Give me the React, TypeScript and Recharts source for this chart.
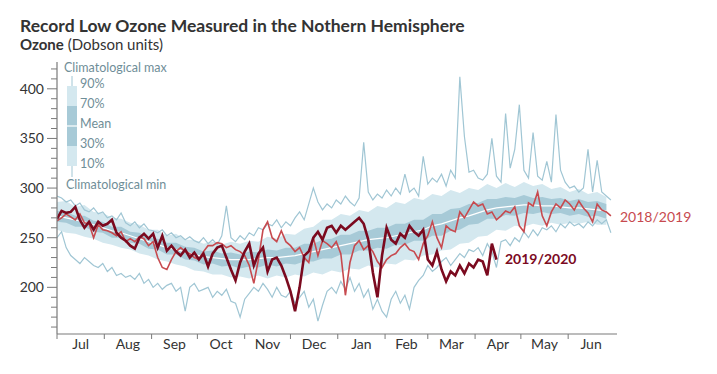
import React from 'react';
import { ComposedChart, Area, Line, XAxis, YAxis } from 'recharts';

// ---- data (Dobson units); day 0 = 1 July ----
const LINE_STEP = 3; // days between samples of the daily series below
const BAND_STEP = 6; // days between samples of the percentile bands

const climMax = [
  292, 290, 286, 288, 282, 285, 278, 276, 280, 274,
  276, 270, 272, 268, 275, 265, 262, 266, 260, 264,
  258, 257, 255, 258, 252, 255, 250, 252, 248, 251,
  247, 245, 250, 244, 248, 243, 252, 282, 250, 246,
  252, 248, 255, 252, 260, 258, 264, 262, 268, 260,
  266, 262, 270, 276, 268, 284, 300, 286, 278, 284,
  280, 288, 284, 292, 286, 282, 290, 346, 296, 288,
  294, 290, 298, 292, 300, 294, 314, 296, 300, 292,
  332, 304, 310, 306, 314, 302, 318, 310, 412, 352,
  316, 318, 310, 308, 314, 350, 312, 306, 375, 320,
  339, 384, 318, 310, 356, 312, 308, 327, 306, 374,
  318, 306, 300, 302, 296, 300, 339, 296, 328, 296,
  292, 288,
];

const climMin = [
  250, 256, 240, 232, 228, 224, 230, 226, 222, 220,
  224, 216, 220, 212, 214, 210, 212, 208, 214, 204,
  208, 200, 204, 198, 202, 204, 196, 200, 176, 200,
  204, 196, 198, 200, 190, 196, 192, 198, 186, 184,
  170, 188, 194, 200, 196, 204, 198, 190, 200, 192,
  190, 196, 184, 190, 196, 180, 188, 166, 182, 196,
  200, 194, 206, 198, 210, 196, 204, 190, 198, 178,
  188, 176, 170, 188, 196, 184, 192, 178, 200, 207,
  212, 222, 216, 220, 226, 230, 222, 228, 234, 230,
  238, 236, 240, 232, 244, 236, 220, 246, 248, 242,
  250, 246, 256, 250, 258, 252, 260, 258, 262, 256,
  264, 260, 266, 262, 264, 260, 266, 262, 268, 264,
  268, 255,
];

const ozone2018_2019 = [
  267, 270, 274, 271, 268, 274, 265, 264, 250, 263,
  258, 257, 255, 252, 256, 246, 249, 246, 251, 249,
  242, 246, 230, 220, 218, 228, 236, 240, 236, 234,
  230, 228, 236, 242, 242, 245, 244, 240, 242, 238,
  236, 232, 222, 204, 228, 258, 266, 250, 246, 257,
  246, 242, 236, 240, 230, 225, 250, 232, 247, 244,
  240, 246, 234, 192, 225, 242, 247, 238, 242, 236,
  226, 220, 228, 232, 234, 240, 244, 238, 236, 228,
  244, 252, 266, 250, 240, 262, 258, 256, 276, 270,
  278, 286, 282, 284, 274, 276, 268, 272, 277, 275,
  281, 262, 256, 285, 282, 296, 272, 262, 276, 284,
  280, 288, 284, 278, 287, 280, 275, 266, 284, 278,
  276, 272,
];

const ozone2019_2020 = [
  269, 277, 275, 276, 281, 268, 260, 266, 258, 266,
  262, 264, 268, 255, 250, 247, 242, 239, 250, 254,
  249, 254, 240, 252, 237, 242, 236, 232, 238, 230,
  235, 228, 234, 221, 234, 240, 242, 230, 218, 207,
  225, 236, 244, 222, 234, 240, 216, 228, 230, 222,
  210, 196, 176, 200, 232, 236, 250, 256, 248, 260,
  262, 255, 262, 258, 262, 266, 270, 264, 248, 215,
  190, 232, 260, 248, 244, 254, 250, 262, 256, 252,
  258, 228, 222, 236, 218, 206, 216, 212, 222, 214,
  224, 220, 228, 226, 212, 244, 228,
];

const pct90 = [
  286, 287, 281, 283, 276, 275, 270, 269, 265, 263,
  258, 258, 252, 254, 248, 248, 244, 246, 243, 246,
  244, 247, 246, 251, 249, 254, 253, 259, 261, 268,
  268, 274, 272, 278, 276, 282, 280, 286, 284, 290,
  288, 294, 292, 298, 295, 300, 298, 304, 300, 305,
  301, 306, 302, 304, 299, 301, 296, 299, 294, 296,
  291,
];
const pct70 = [
  277, 276, 272, 272, 267, 266, 261, 261, 256, 255,
  250, 249, 245, 245, 241, 240, 236, 237, 234, 235,
  233, 236, 235, 238, 237, 240, 240, 244, 244, 248,
  249, 253, 253, 257, 257, 260, 260, 264, 264, 268,
  268, 274, 274, 279, 280, 284, 285, 289, 289, 291,
  290, 293, 290, 291, 289, 290, 287, 289, 286, 287,
  284,
];
const climMean = [
  272, 270, 268, 266, 263, 260, 257, 255, 252, 249,
  246, 243, 240, 238, 236, 233, 231, 230, 229, 228,
  228, 228, 229, 230, 230, 231, 232, 234, 236, 238,
  240, 242, 244, 246, 248, 249, 250, 252, 254, 256,
  258, 262, 264, 267, 270, 272, 275, 278, 280, 281,
  282, 283, 283, 282, 282, 281, 280, 280, 279, 278,
  277,
];
const pct30 = [
  266, 265, 261, 261, 256, 255, 250, 250, 245, 244,
  239, 238, 233, 233, 228, 227, 223, 224, 221, 222,
  219, 221, 220, 223, 221, 224, 223, 226, 226, 229,
  229, 233, 233, 237, 237, 240, 239, 243, 243, 247,
  247, 252, 252, 257, 258, 263, 264, 269, 269, 273,
  272, 275, 274, 276, 274, 275, 272, 274, 271, 272,
  269,
];
const pct10 = [
  258, 255, 254, 251, 249, 245, 243, 240, 238, 234,
  232, 228, 226, 223, 221, 217, 216, 213, 213, 210,
  211, 209, 212, 209, 212, 210, 213, 211, 215, 213,
  217, 215, 219, 218, 222, 220, 224, 223, 228, 227,
  232, 233, 237, 238, 244, 245, 251, 252, 258, 257,
  262, 261, 264, 262, 265, 263, 265, 264, 266, 263,
  263,
];

const monthLabels = ['Jul', 'Aug', 'Sep', 'Oct', 'Nov', 'Dec', 'Jan', 'Feb', 'Mar', 'Apr', 'May', 'Jun'];
const monthStartDays = [0, 31, 62, 92, 123, 153, 184, 215, 243, 274, 304, 335];
const monthLengths = [31, 31, 30, 31, 30, 31, 31, 28, 31, 30, 31, 30];
const yTicks = [160, 170, 180, 190, 200, 210, 220, 230, 240, 250, 260, 270, 280, 290, 300, 310, 320, 330, 340, 350, 360, 370, 380, 390, 400, 410, 420];
const yMajor = [200, 250, 300, 350, 400];

// ---- tables built for the library ----
const lineRows = climMax.map((v, i) => ({
  day: i * LINE_STEP,
  max: v,
  min: climMin[i],
  s1819: ozone2018_2019[i],
  s1920: i < ozone2019_2020.length ? ozone2019_2020[i] : null,
}));
const bandRows = climMean.map((m, i) => ({
  day: i * BAND_STEP,
  outer: [pct10[i], pct90[i]],
  inner: [pct30[i], pct70[i]],
  mean: m,
}));

// ---- layout / style ----
const W = 717;
const H = 374;
const M = { top: 62, right: 100, bottom: 10, left: 12 };
const Y_W = 45;
const X_H = 30;
const X_DOMAIN: [number, number] = [0, 367];
const PX_PER_DAY = (W - M.left - M.right - Y_W) / (X_DOMAIN[1] - X_DOMAIN[0]);
const FONT = 'Lato, "Open Sans", sans-serif';
const AXIS = '#7a7a7a';
const TXT = '#333333';
const LIGHT = '#d4e8ef';
const DARK = '#a7cad7';
const EDGE = '#a0c6d4';
const RED = '#c74a4f';
const MAROON = '#7b0a1f';
const LEG = '#6f8e98';

const MonthTick = (props: any) => {
  const { x, y, payload } = props;
  const idx = monthStartDays.indexOf(payload.value);
  const half = (monthLengths[idx] / 2) * PX_PER_DAY;
  return (
    <g>
      <line x1={x} y1={y} x2={x} y2={y + 5} stroke={AXIS} strokeWidth={1} />
      <text x={x + half} y={y + 15} textAnchor="middle" fontSize={14} fill={TXT} fontFamily={FONT}>
        {monthLabels[idx]}
      </text>
    </g>
  );
};

const OzoneTick = (props: any) => {
  const { x, y, payload } = props;
  const major = yMajor.includes(payload.value);
  return (
    <g>
      <line x1={x - (major ? 10 : 6)} y1={y} x2={x} y2={y} stroke={AXIS} strokeWidth={1} />
      {major && (
        <text x={x - 13} y={y + 5} textAnchor="end" fontSize={14} fill={TXT} fontFamily={FONT}>
          {payload.value}
        </text>
      )}
    </g>
  );
};

export default function App() {
  return (
    <div style={{ position: 'absolute', left: 0, top: 0, width: W, height: H, background: '#fff' }}>
      <ComposedChart width={W} height={H} margin={M}>
        <XAxis
          type="number"
          dataKey="day"
          domain={X_DOMAIN}
          ticks={monthStartDays}
          interval={0}
          allowDataOverflow
          height={X_H}
          tickSize={0}
          tickMargin={0}
          tickLine={false}
          axisLine={{ stroke: AXIS, strokeWidth: 1.2 }}
          tick={<MonthTick />}
        />
        <YAxis
          type="number"
          domain={[153, 427]}
          ticks={yTicks}
          interval={0}
          allowDataOverflow
          width={Y_W}
          tickSize={0}
          tickMargin={0}
          tickLine={false}
          axisLine={{ stroke: AXIS, strokeWidth: 1.2 }}
          tick={<OzoneTick />}
        />
        <Area data={bandRows} dataKey="outer" type="linear" stroke="none" fill={LIGHT} fillOpacity={1} isAnimationActive={false} dot={false} activeDot={false} />
        <Area data={bandRows} dataKey="inner" type="linear" stroke="none" fill={DARK} fillOpacity={1} isAnimationActive={false} dot={false} activeDot={false} />
        <Line data={bandRows} dataKey="mean" type="linear" stroke="#ffffff" strokeWidth={1.2} dot={false} activeDot={false} isAnimationActive={false} />
        <Line data={lineRows} dataKey="max" type="linear" stroke={EDGE} strokeWidth={1.2} dot={false} activeDot={false} isAnimationActive={false} />
        <Line data={lineRows} dataKey="min" type="linear" stroke={EDGE} strokeWidth={1.2} dot={false} activeDot={false} isAnimationActive={false} />
        <Line data={lineRows} dataKey="s1819" type="linear" stroke={RED} strokeWidth={1.6} dot={false} activeDot={false} isAnimationActive={false} />
        <Line data={lineRows} dataKey="s1920" type="linear" stroke={MAROON} strokeWidth={2.6} dot={false} activeDot={false} isAnimationActive={false} connectNulls={false} />
      </ComposedChart>
      <svg width={W} height={H} style={{ position: 'absolute', left: 0, top: 0, pointerEvents: 'none' }}>
        <text x={20} y={32} fontSize={17.5} fontWeight={700} fill={TXT} fontFamily={FONT}>
          Record Low Ozone Measured in the Nothern Hemisphere
        </text>
        <text x={20} y={50} fontSize={15} fill={TXT} fontFamily={FONT}>
          <tspan fontWeight={700}>Ozone</tspan>
          <tspan> (Dobson units)</tspan>
        </text>
        <line x1={72} y1={76} x2={72} y2={177} stroke={EDGE} strokeWidth={1} />
        <rect x={67} y={86} width={10} height={80} fill={LIGHT} />
        <rect x={67} y={106} width={10} height={40} fill={DARK} />
        <line x1={67} y1={126} x2={77} y2={126} stroke="#fff" strokeWidth={1.2} />
        <g fontSize={12.5} fill={LEG} fontFamily={FONT}>
          <text x={64} y={72}>Climatological max</text>
          <text x={80} y={88}>90%</text>
          <text x={80} y={108}>70%</text>
          <text x={80} y={128}>Mean</text>
          <text x={80} y={148}>30%</text>
          <text x={80} y={168}>10%</text>
          <text x={66} y={189}>Climatological min</text>
        </g>
        <text x={620} y={222} fontSize={14} fill={RED} fontFamily={FONT}>2018/2019</text>
        <text x={505} y={264} fontSize={14} fontWeight={700} fill={MAROON} fontFamily={FONT}>2019/2020</text>
      </svg>
    </div>
  );
}
